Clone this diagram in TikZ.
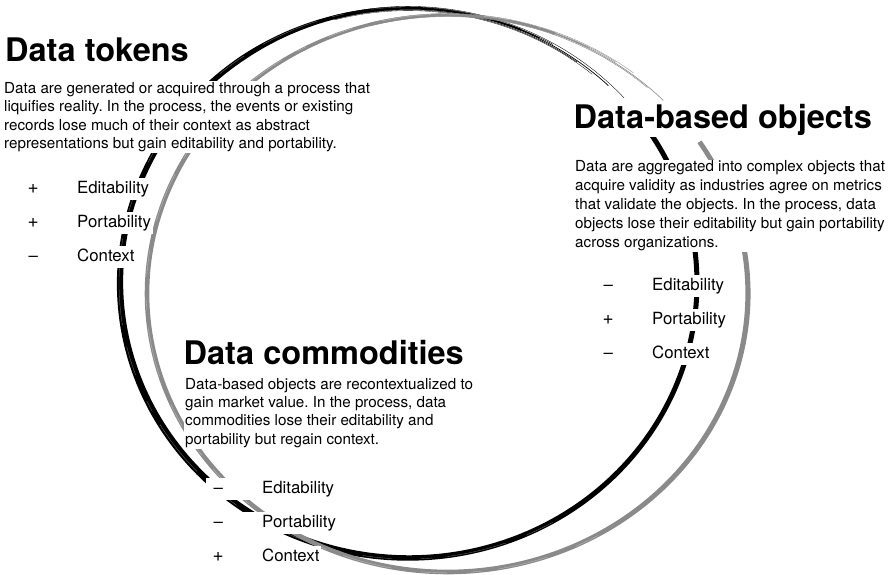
\documentclass[tikz,border=0pt]{standalone}
\usepackage{fontspec}
\setmainfont{TeX Gyre Heros}
\frenchspacing
\definecolor{brushgray}{RGB}{138,138,138}
\tikzset{
  heading/.style={font=\fontsize{32.5}{36}\selectfont\bfseries, anchor=base west, inner sep=1.5pt, fill=white},
  para/.style={anchor=base west, inner sep=1pt, fill=white, align=left},
  rowitem/.style={font=\fontsize{16.8}{20}\selectfont, anchor=base west, inner xsep=2pt, inner ysep=3pt, fill=white, text height=12.5pt, text depth=3.6pt},
}
\newcommand{\rowtext}[2]{\makebox[20pt][c]{#1}\hspace{34pt}#2}
\newcommand{\plussign}{{\fontsize{19}{19}\selectfont+}}
\begin{document}
\begin{tikzpicture}[x=1pt,y=-1pt,
  declare function={
    wb(\t)=5.0+1.8*exp(-((\t-150)/50)*((\t-150)/50))-3.2*max(0,(\t-235)/58);
    wg(\t)=4.6+0.6*exp(-((\t-10)/40)*((\t-10)/40))-2.2*max(0,(\t-205)/85);
  }]
\useasboundingbox (0,0) rectangle (895,574);

% ---- black brush ellipse ----
\fill[black] plot[domain=-35:293, samples=240] ({408.5+(288.5+wb(\x)/2)*cos(\x)},{283+(275+wb(\x)/2)*sin(\x)})
  -- plot[domain=293:-35, samples=240] ({408.5+(288.5-wb(\x)/2)*cos(\x)},{283+(275-wb(\x)/2)*sin(\x)}) -- cycle;
\foreach \d/\e/\w in {-1.8/306/0.5, -0.7/314/0.7, 0.5/300/0.45, 1.6/318/0.35, 0/297/0.9, -2.6/310/0.3} {
  \draw[black, line width=\w pt] plot[domain=255:\e, samples=60] ({408.5+(288.5+\d)*cos(\x)},{283+(275+\d)*sin(\x)});
}
\draw[white, opacity=0.45, line width=0.3pt, dash pattern=on 30pt off 22pt on 60pt off 15pt on 12pt off 28pt]
  plot[domain=60:290, samples=200] ({408.5+(288.5+1.0)*cos(\x)},{283+(275+1.0)*sin(\x)});

% ---- gray brush ellipse ----
\fill[brushgray] plot[domain=-33:291, samples=240] ({447.5+(300.5+wg(\x)/2)*cos(\x)},{293.5+(278.5+wg(\x)/2)*sin(\x)})
  -- plot[domain=291:-33, samples=240] ({447.5+(300.5-wg(\x)/2)*cos(\x)},{293.5+(278.5-wg(\x)/2)*sin(\x)}) -- cycle;
\foreach \d/\e/\w in {-1.5/312/0.5, -0.5/316/0.6, 0.6/304/0.4, 1.5/308/0.35, 0/298/0.8} {
  \draw[brushgray, line width=\w pt] plot[domain=255:\e, samples=60] ({447.5+(300.5+\d)*cos(\x)},{293.5+(278.5+\d)*sin(\x)});
}
\draw[white, opacity=0.5, line width=0.3pt, dash pattern=on 25pt off 30pt on 50pt off 18pt on 10pt off 25pt]
  plot[domain=60:288, samples=200] ({447.5+(300.5+0.9)*cos(\x)},{293.5+(278.5+0.9)*sin(\x)});

% ---- Data tokens ----
\node[heading] (tokH) at (3.5,61) {Data tokens};
\node[para, font=\fontsize{15.2}{18.4}\selectfont] (tokP) at (3,148.5) {Data are generated or acquired through a process that\\liquifies reality. In the process, the events or existing\\records lose much of their context as abstract\\representations but gain editability and portability.};
\node[rowitem] (tokE) at (21,193) {\rowtext{\plussign}{Editability}};
\node[rowitem] (tokPo) at (21,227.2) {\rowtext{\plussign}{Portability}};
\node[rowitem] (tokC) at (21,261.5) {\rowtext{\textendash}{Context}};

% ---- Data-based objects ----
\node[heading] (objH) at (572,128.3) {Data-based objects};
\node[para, font=\fontsize{15.2}{19}\selectfont] (objP) at (574,247.7) {Data are aggregated into complex objects that\\acquire validity as industries agree on metrics\\that validate the objects. In the process, data\\objects lose their editability but gain portability\\across organizations.};
\node[rowitem] (objE) at (596,290.5) {\rowtext{\textendash}{Editability}};
\node[rowitem] (objPo) at (596,324.6) {\rowtext{\plussign}{Portability}};
\node[rowitem] (objC) at (596,358.7) {\rowtext{\textendash}{Context}};

% ---- Data commodities ----
\node[heading] (comH) at (182,364) {Data commodities};
\node[para, font=\fontsize{15.2}{18.4}\selectfont] (comP) at (184,444.2) {Data-based objects are recontextualized to\\gain market value. In the process, data\\commodities lose their editability and\\portability but regain context.};
\node[rowitem] (comE) at (206,493.3) {\rowtext{\textendash}{Editability}};
\node[rowitem] (comPo) at (206,527.5) {\rowtext{\textendash}{Portability}};
\node[rowitem] (comC) at (206,561.7) {\rowtext{\plussign}{Context}};
\end{tikzpicture}
\end{document}
